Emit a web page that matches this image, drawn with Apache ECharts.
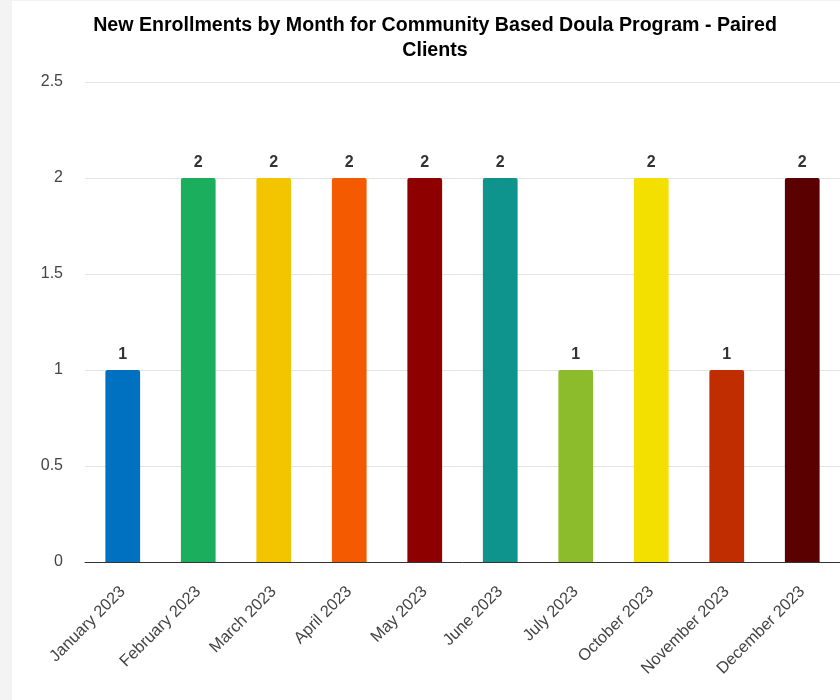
<!DOCTYPE html>
<html>
<head>
<meta charset="utf-8">
<script src="https://cdn.jsdelivr.net/npm/echarts@6/dist/echarts.min.js"></script>
<style>
  html, body { margin: 0; padding: 0; background: #f3f3f3; width: 840px; height: 700px; overflow: hidden; }
  #wrap { position: absolute; left: 12px; top: 1px; width: 828px; height: 699px; background: #ffffff; }
  #chart { width: 828px; height: 699px; }
</style>
</head>
<body>
<div id="wrap"><div id="chart"></div></div>
<script>
const titleText = 'New Enrollments by Month for Community Based Doula Program - Paired\nClients';
const categories = ['January 2023', 'February 2023', 'March 2023', 'April 2023', 'May 2023', 'June 2023', 'July 2023', 'October 2023', 'November 2023', 'December 2023'];
const values = [1, 2, 2, 2, 2, 2, 1, 2, 1, 2];
const colors = ['#0070c0', '#1baf5d', '#f2c500', '#f45b00', '#8e0000', '#0e948c', '#8cbb2c', '#f3e000', '#c02d00', '#5b0000'];
const yTicks = { min: 0, max: 2.5, interval: 0.5 };

const chart = echarts.init(document.getElementById('chart'), null, { renderer: 'canvas' });
chart.setOption({
  animation: false,
  backgroundColor: '#ffffff',
  title: {
    text: titleText,
    left: 418, top: 7, textAlign: 'center',
    textStyle: { fontFamily: 'Liberation Sans, Arial, sans-serif', fontWeight: 'bold', fontSize: 19.6, color: '#000000', lineHeight: 25 }
  },
  grid: { left: 73, right: 0, top: 81, bottom: 138, containLabel: false },
  xAxis: {
    type: 'category',
    data: categories,
    axisLine: { lineStyle: { color: '#333333', width: 1 } },
    axisTick: { show: false },
    axisLabel: { rotate: 45, interval: 0, margin: 27, color: '#444444', fontSize: 16.4, fontFamily: 'Liberation Sans, Arial, sans-serif' }
  },
  yAxis: {
    type: 'value',
    min: yTicks.min, max: yTicks.max, interval: yTicks.interval,
    axisLine: { show: false },
    axisTick: { show: false },
    splitLine: { lineStyle: { color: '#e3e3e3', width: 1 } },
    axisLabel: { margin: 22, padding: [4, 0, 0, 0], color: '#444444', fontSize: 16, fontFamily: 'Liberation Sans, Arial, sans-serif' }
  },
  series: [{
    type: 'bar',
    data: values.map((v, i) => ({ value: v, itemStyle: { color: colors[i] } })),
    barWidth: '46%',
    itemStyle: { borderRadius: [2, 2, 0, 0] },
    label: { show: true, position: 'top', distance: 7, color: '#333333', fontWeight: 'bold', fontSize: 16, fontFamily: 'Liberation Sans, Arial, sans-serif' }
  }]
});
</script>
</body>
</html>
